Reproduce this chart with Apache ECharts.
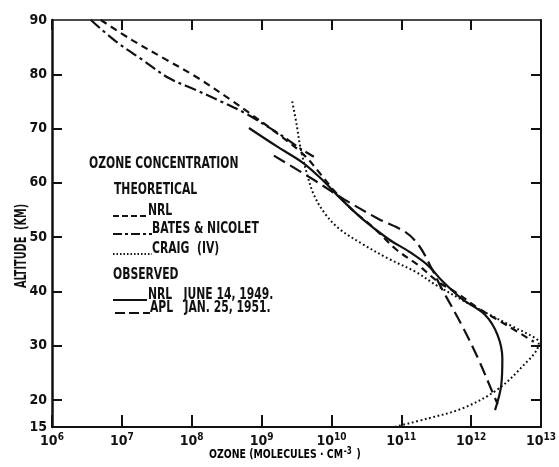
<!DOCTYPE html>
<html>
<head>
<meta charset="utf-8">
<script src="https://cdn.jsdelivr.net/npm/echarts@6/dist/echarts.min.js"></script>
<style>
  html, body { margin: 0; padding: 0; background: #fff; }
  #chart { width: 559px; height: 467px; }
</style>
</head>
<body>
<div id="chart"></div>
<script>
// Ozone number density (molecules / cm^3) against altitude (km)

// Theoretical: NRL
const nrlTheoryConc = [5.0e6, 1.4e7, 4.3e7, 1.2e8, 3.6e8, 6.3e8, 1.6e9, 4.0e9, 7.1e9, 1.1e10, 2.0e10, 4.2e10, 8.3e10, 1.8e11, 3.4e11, 5.9e11, 1.3e12, 3.5e12, 7.9e12];
const nrlTheoryAlt  = [90, 86.3, 82.7, 79.4, 75.3, 73.1, 69.3, 65.2, 61.5, 58.5, 55.0, 51.5, 47.8, 44.7, 41.7, 39.9, 36.8, 33.5, 30.7];

// Theoretical: Bates & Nicolet
const batesConc = [3.6e6, 8.3e6, 1.95e7, 4.7e7, 1.1e8, 2.6e8, 6.3e8, 1.2e9, 2.0e9, 3.5e9, 5.6e9];
const batesAlt  = [90, 86.0, 82.7, 79.3, 77.2, 75.0, 72.6, 70.4, 68.6, 66.4, 64.8];

// Theoretical: Craig (IV)
const craigConc = [2.75e9, 3.2e9, 3.6e9, 4.5e9, 5.6e9, 7.9e9, 1.3e10, 2.8e10, 6.6e10, 1.6e11, 3.2e11, 1.26e12, 3.7e12, 8.5e12, 9.3e12, 5.1e12, 2.2e12, 7.4e11, 2.45e11, 7.9e10];
const craigAlt  = [75.0, 70.5, 66.5, 61.5, 57.8, 54.5, 51.5, 48.7, 46.0, 43.6, 41.1, 36.8, 33.7, 31.3, 30.5, 25.8, 21.6, 18.4, 16.6, 15.0];

// Observed: NRL, June 14, 1949
const nrlObsConc = [6.6e8, 1.66e9, 4.0e9, 7.9e9, 1.26e10, 2.8e10, 6.6e10, 1.3e11, 2.45e11, 3.8e11, 7.4e11, 1.6e12, 2.4e12, 2.8e12, 2.7e12, 2.2e12];
const nrlObsAlt  = [70.1, 66.7, 63.6, 60.2, 57.5, 53.3, 49.6, 47.3, 44.7, 42.0, 38.6, 35.6, 31.9, 27.6, 22.7, 18.1];

// Observed: APL, Jan. 25, 1951
const aplConc = [1.5e9, 5.5e9, 1.5e10, 4.8e10, 1.15e11, 1.8e11, 2.75e11, 3.8e11, 7.4e11, 1.26e12, 2.2e12, 2.4e12];
const aplAlt  = [65.0, 60.6, 57.0, 53.3, 50.9, 48.4, 44.1, 40.5, 33.7, 27.6, 20.3, 19.2];

// Axis ticks and labels
const altTicks  = [20, 30, 40, 50, 60, 70, 80];
const altLabels = [15, 20, 30, 40, 50, 60, 70, 80, 90];
const concExponents = [6, 7, 8, 9, 10, 11, 12, 13];

const FONT = "'Liberation Sans Narrow', 'DejaVu Sans Condensed', 'Liberation Sans', sans-serif";
const INK = '#111';

const pairs = (xs, ys) => xs.map((x, i) => [x, ys[i]]);

function curve(name, xs, ys, dash, width) {
  return {
    name, type: 'line', xAxisIndex: 0, yAxisIndex: 0,
    data: pairs(xs, ys),
    smooth: 0.35, showSymbol: false, symbol: 'none', silent: true,
    lineStyle: { color: INK, width: width || 2.2, type: dash, cap: 'butt' }
  };
}

const chart = echarts.init(document.getElementById('chart'), null, { renderer: 'canvas' });

const baseX = {
  type: 'log', logBase: 10, min: 1e6, max: 1e13,
  splitLine: { show: false }, minorTick: { show: false }, minorSplitLine: { show: false },
  axisLine: { show: true, onZero: false, lineStyle: { color: INK, width: 2 } }
};
const baseY = {
  type: 'value', min: 15, max: 90,
  splitLine: { show: false },
  axisLine: { show: true, onZero: false, lineStyle: { color: INK, width: 2.5 } },
  axisTick: { show: true, inside: true, length: 10, lineStyle: { color: INK, width: 2 }, customValues: altTicks }
};

// Key drawn inside the plot: headings, line samples and captions
const legendRows = [
  { text: 'OZONE CONCENTRATION', x: 89, y: 164 },
  { text: 'THEORETICAL', x: 114, y: 190 },
  { text: 'NRL', x: 148, y: 211, sample: [113, 147], dash: [6, 3] },
  { text: 'BATES & NICOLET', x: 152, y: 229, sample: [113, 152], dash: [9, 3, 3, 3] },
  { text: 'CRAIG  (IV)', x: 152, y: 249, sample: [113, 152], dash: [1.5, 2] },
  { text: 'OBSERVED', x: 113, y: 275 },
  { text: 'NRL   JUNE 14, 1949.', x: 148, y: 295, sample: [113, 147], dash: 'solid' },
  { text: 'APL   JAN. 25, 1951.', x: 150, y: 308, sample: [115, 150], dash: [10, 4] }
];

const graphics = [];
legendRows.forEach(r => {
  graphics.push({
    type: 'text', x: r.x, y: r.y, scaleX: 0.8, silent: true,
    style: { text: r.text, fill: INK, font: 'bold 15px ' + FONT, textVerticalAlign: 'middle', textAlign: 'left' }
  });
  if (r.sample) {
    graphics.push({
      type: 'line', silent: true,
      shape: { x1: r.sample[0], y1: r.y + 5, x2: r.sample[1], y2: r.y + 5 },
      style: { stroke: INK, lineWidth: 2, lineDash: r.dash === 'solid' ? null : r.dash }
    });
  }
});
// Axis titles
graphics.push({
  type: 'text', x: 22, y: 246, rotation: Math.PI / 2, scaleX: 0.72, silent: true,
  style: { text: 'ALTITUDE  (KM)', fill: INK, font: 'bold 15px ' + FONT, textAlign: 'center', textVerticalAlign: 'middle' }
});
graphics.push({
  type: 'text', x: 285, y: 455, scaleX: 0.8, silent: true,
  style: {
    text: '{t|OZONE (MOLECULES · CM}{s|-3}{t| )}',
    rich: {
      t: { fontFamily: FONT, fontWeight: 'bold', fontSize: 13, color: INK },
      s: { fontFamily: FONT, fontWeight: 'bold', fontSize: 10, color: INK, padding: [0, 2, 7, 1] }
    },
    textAlign: 'center', textVerticalAlign: 'middle'
  }
});

chart.setOption({
  animation: false,
  backgroundColor: '#fff',
  grid: { left: 52, right: 12, top: 20, bottom: 40, containLabel: false },
  xAxis: [
    Object.assign({}, baseX, {
      position: 'bottom',
      axisTick: { show: true, inside: true, length: 12, lineStyle: { color: INK, width: 2 } },
      axisLabel: {
        show: true, margin: 5, color: INK,
        formatter: v => {
          const e = Math.round(Math.log10(v));
          return concExponents.indexOf(e) >= 0 ? '{b|10}{e|' + e + '}' : '';
        },
        rich: {
          b: { fontFamily: FONT, fontWeight: 'bold', fontSize: 14, color: INK, verticalAlign: 'bottom' },
          e: { fontFamily: FONT, fontWeight: 'bold', fontSize: 10, color: INK, verticalAlign: 'bottom', padding: [0, 0, 6, 0] }
        }
      }
    }),
    Object.assign({}, baseX, {
      position: 'top',
      axisLine: { show: true, onZero: false, lineStyle: { color: INK, width: 1.6 } },
      axisTick: { show: true, inside: true, length: 10, lineStyle: { color: INK, width: 2 } },
      axisLabel: { show: false }
    })
  ],
  yAxis: [
    Object.assign({}, baseY, {
      position: 'left',
      axisLabel: {
        show: true, margin: 5, color: INK, fontFamily: FONT, fontWeight: 'bold', fontSize: 14,
        customValues: altLabels
      }
    }),
    Object.assign({}, baseY, {
      position: 'right',
      axisLine: { show: true, onZero: false, lineStyle: { color: INK, width: 2 } },
      axisLabel: { show: false }
    })
  ],
  graphic: graphics,
  series: [
    curve('NRL (theoretical)', nrlTheoryConc, nrlTheoryAlt, [7, 5]),
    curve('Bates & Nicolet', batesConc, batesAlt, [12, 4, 3, 4]),
    curve('Craig (IV)', craigConc, craigAlt, [1.8, 2.6], 2),
    curve('NRL June 14, 1949', nrlObsConc, nrlObsAlt, 'solid'),
    curve('APL Jan. 25, 1951', aplConc, aplAlt, [13, 6])
  ]
});
</script>
</body>
</html>
